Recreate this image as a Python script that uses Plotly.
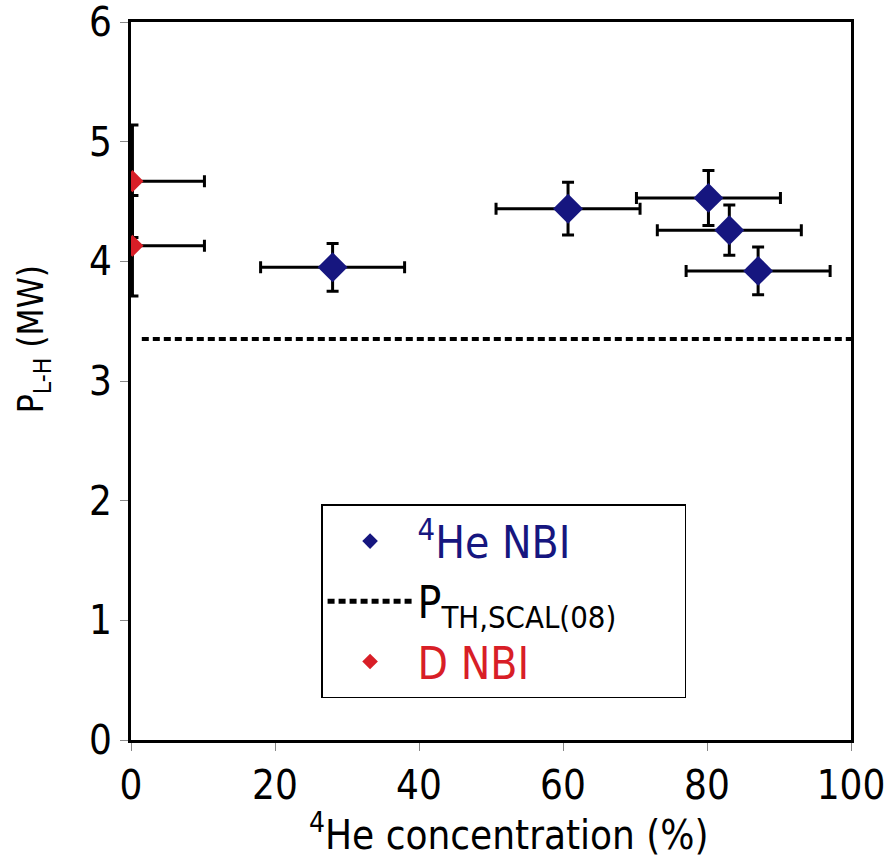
import plotly.graph_objects as go

# 4He NBI data
he_x = [28.0, 60.7, 80.2, 83.1, 87.1]
he_y = [3.95, 4.44, 4.53, 4.26, 3.92]
he_xerr = [10, 10, 10, 10, 10]
he_yerr = [0.2, 0.22, 0.23, 0.21, 0.2]

# D NBI data
d_x = [0.2, 0.2]
d_y = [4.67, 4.13]
d_xerr = [10, 10]
d_yerr = [0.47, 0.42]

# Threshold scaling
th_x = [1.5, 100]
th_y = [3.35, 3.35]

x_ticks = [0, 20, 40, 60, 80, 100]
y_ticks = [0, 1, 2, 3, 4, 5, 6]

FONT = "DejaVu Sans Condensed, Liberation Sans Narrow, sans-serif"
NAVY = "#16167f"
RED = "#d81e27"
PAD = "\u00a0" * 5

fig = go.Figure()
fig.add_trace(go.Scatter(
    x=he_x, y=he_y, mode="markers",
    name=f'<span style="color:{NAVY}"><sup>4</sup>He NBI</span>',
    marker=dict(symbol="diamond", size=23, color=NAVY),
    error_x=dict(type="data", array=he_xerr, color="black", thickness=3, width=6),
    error_y=dict(type="data", array=he_yerr, color="black", thickness=3, width=6),
    legendgroup="a",
))
fig.add_trace(go.Scatter(
    x=th_x, y=th_y, mode="lines",
    name="P<sub>TH,SCAL(08)</sub>" + PAD,
    line=dict(color="black", width=4, dash="7px,4px"),
    legendgroup="b",
))
fig.add_trace(go.Scatter(
    x=d_x, y=d_y, mode="markers",
    name=f'<span style="color:{RED}">D NBI</span>',
    marker=dict(symbol="diamond", size=17, color=RED),
    error_x=dict(type="data", array=d_xerr, color="black", thickness=3, width=6),
    error_y=dict(type="data", array=d_yerr, color="black", thickness=3, width=6),
    legendgroup="c",
))

fig.update_layout(
    width=888, height=865,
    margin=dict(l=131, r=37, t=22, b=125, autoexpand=False),
    paper_bgcolor="white", plot_bgcolor="white",
    font=dict(family=FONT, size=40, color="black"),
    showlegend=True,
    legend=dict(
        x=0.264, y=0.328, xanchor="left", yanchor="top",
        bordercolor="black", borderwidth=1.5, bgcolor="white",
        font=dict(family=FONT, size=44),
        tracegroupgap=3, traceorder="normal",
        itemsizing="constant", itemwidth=85,
    ),
    xaxis=dict(
        range=[0, 100], tickvals=x_ticks,
        showgrid=False, zeroline=False, automargin=False,
        showline=True, linecolor="black", linewidth=3, mirror=True,
        ticks="outside", ticklen=8, tickcolor="#888", tickwidth=1,
        tickfont=dict(size=40), ticklabeloverflow="allow",
    ),
    yaxis=dict(
        range=[0, 6], tickvals=y_ticks,
        showgrid=False, zeroline=False, automargin=False,
        showline=True, linecolor="black", linewidth=3, mirror=True,
        ticks="outside", ticklen=8, tickcolor="#888", tickwidth=1,
        tickfont=dict(size=40), ticklabeloverflow="allow",
    ),
    annotations=[
        dict(text="<sup>4</sup>He concentration (%)", xref="paper", yref="paper",
             x=0.525, y=-0.128, xanchor="center", yanchor="middle",
             showarrow=False, font=dict(size=40)),
        dict(text="P<sub>L-H</sub> (MW)", xref="paper", yref="paper",
             x=-0.135, y=0.558, xanchor="center", yanchor="middle", textangle=-90,
             showarrow=False, font=dict(size=35)),
    ],
)

fig.write_html("out.html")
